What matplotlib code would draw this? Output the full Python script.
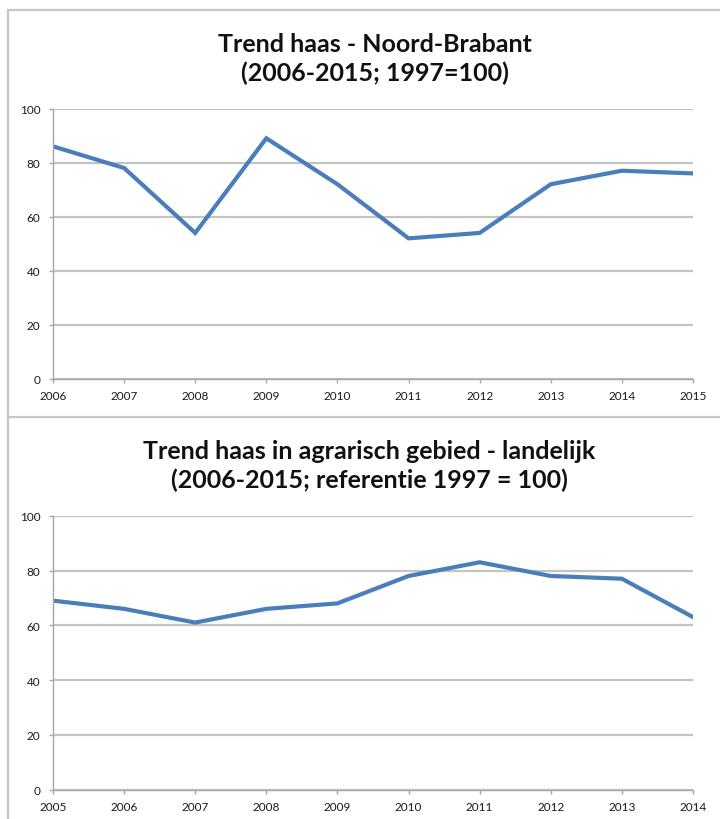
"""
Trend haas - two Excel-style line charts stacked
"""

import matplotlib
matplotlib.use('Agg')
import matplotlib.pyplot as plt
from matplotlib.lines import Line2D

plt.rcParams['font.family'] = ['Lato', 'DejaVu Sans']

# Data
years_nb = [2006, 2007, 2008, 2009, 2010, 2011, 2012, 2013, 2014, 2015]
index_nb = [86, 78, 54, 89, 72, 52, 54, 72, 77, 76]

years_nl = [2005, 2006, 2007, 2008, 2009, 2010, 2011, 2012, 2013, 2014]
index_nl = [69, 66, 61, 66, 68, 78, 83, 78, 77, 63]

title_nb = 'Trend haas - Noord-Brabant\n(2006-2015; 1997=100)'
title_nl = 'Trend haas in agrarisch gebied - landelijk\n(2006-2015; referentie 1997 = 100)'

LINE_COLOR = '#4a7ebb'
GRID_COLOR = '#c3c3c3'
AXIS_COLOR = '#a6a6a6'
BORDER_COLOR = '#c6c6c6'
W, H = 720, 820


def style_axis(ax, years, values):
    """Plot one series in the Excel 2008 look"""
    ax.plot(years, values, color=LINE_COLOR, linewidth=3.0, solid_joinstyle='miter')
    ax.set_xlim(years[0], years[-1])
    ax.set_ylim(0, 100)
    ax.set_xticks(years)
    ax.set_yticks(range(0, 101, 20))
    ax.yaxis.grid(True, color=GRID_COLOR, linewidth=1.6)
    ax.set_axisbelow(True)
    for side in ['top', 'right']:
        ax.spines[side].set_visible(False)
    for side in ['left', 'bottom']:
        ax.spines[side].set_color(AXIS_COLOR)
        ax.spines[side].set_linewidth(1.0)
    ax.tick_params(axis='both', direction='out', length=3, width=1.0,
                   color=AXIS_COLOR, labelsize=8.5, labelcolor='#1a1a1a')
    ax.tick_params(axis='x', pad=5)
    ax.tick_params(axis='y', pad=6)


fig = plt.figure(figsize=(W / 100, H / 100), dpi=100)

# axes placed in pixel units of the reference
ax1 = fig.add_axes([53 / W, 1 - 380 / H, (693 - 53) / W, (380 - 109.5) / H])
style_axis(ax1, years_nb, index_nb)

ax2 = fig.add_axes([53 / W, 1 - 790.7 / H, (693 - 53) / W, (790.7 - 516.7) / H])
style_axis(ax2, years_nl, index_nl)

fig.text(375 / W, 1 - 59 / H, title_nb, ha='center', va='center',
         fontsize=18, fontweight='bold', linespacing=1.3, color='#111111')
fig.text(369 / W, 1 - 466 / H, title_nl, ha='center', va='center',
         fontsize=18, fontweight='bold', linespacing=1.3, color='#111111')

# chart borders like the pasted Excel frames
def border(xs, ys):
    fig.add_artist(Line2D([x / W for x in xs], [1 - y / H for y in ys],
                          color=BORDER_COLOR, linewidth=1.6))

border([8, 720], [11, 11])
border([8, 8], [11, 820])
border([8, 720], [418, 418])

fig.savefig('out.png', dpi=100)
